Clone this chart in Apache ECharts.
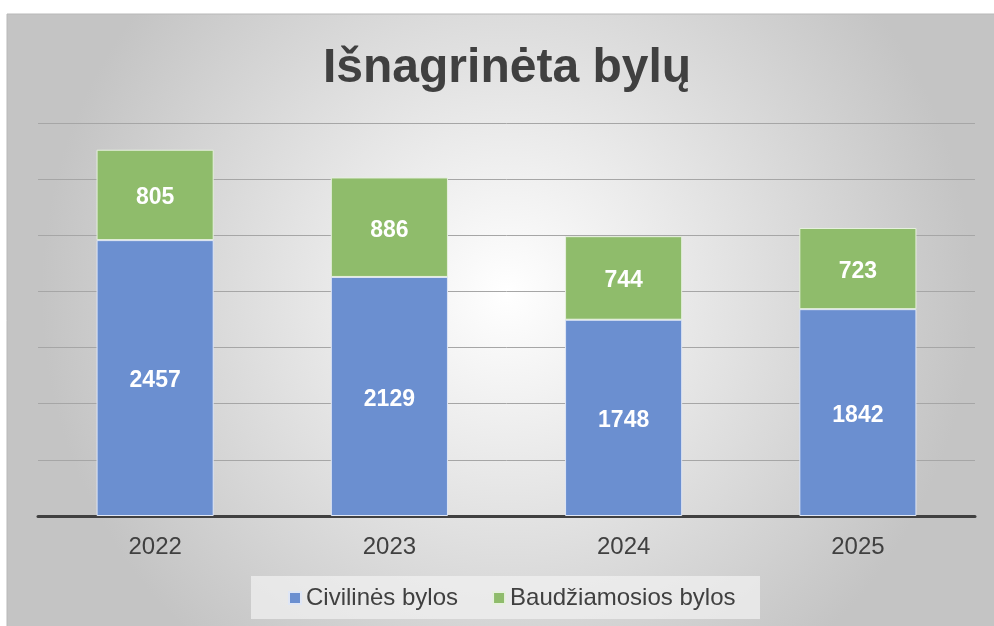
<!DOCTYPE html>
<html>
<head>
<meta charset="utf-8">
<script src="https://cdn.jsdelivr.net/npm/echarts@6/dist/echarts.min.js"></script>
<style>
  html, body { margin: 0; padding: 0; background: #fff; }
  #chart { width: 994px; height: 626px; }
</style>
</head>
<body>
<div id="chart"></div>
<script>
const years = ['2022', '2023', '2024', '2025'];
const civilines = [2457, 2129, 1748, 1842];
const baudziamosios = [805, 886, 744, 723];

const myChart = echarts.init(document.getElementById('chart'));

const labelStyle = {
    show: true,
    color: '#fff',
    fontSize: 23,
    fontWeight: 'bold',
    fontFamily: 'Liberation Sans, Arial, sans-serif',
    offset: [0, 3]
};

let option = {
    backgroundColor: '#fff',
    animation: false,
    graphic: [{
        type: 'rect',
        z: -10,
        silent: true,
        shape: { x: 7, y: 14, width: 1000, height: 620 },
        style: {
            fill: new echarts.graphic.RadialGradient(0.5, 0.45, 0.75, [
                { offset: 0, color: '#ffffff' },
                { offset: 1, color: '#c4c4c4' }
            ]),
            stroke: '#b8b8b8',
            lineWidth: 1
        }
    }, {
        type: 'rect',
        silent: true,
        z: -5,
        shape: { x: 251, y: 576, width: 509, height: 43 },
        style: { fill: 'rgba(242,242,242,0.7)' }
    }],
    title: {
        text: 'Išnagrinėta bylų',
        left: 318,
        top: 40,
        textStyle: {
            fontSize: 48,
            fontWeight: 'bold',
            color: '#404040',
            fontFamily: 'Liberation Sans, Arial, sans-serif'
        }
    },
    legend: {
        top: 581,
        left: 283,
        itemWidth: 12,
        itemHeight: 12,
        itemGap: 34,
        icon: 'rect',
        textStyle: {
            fontSize: 24,
            color: '#404040',
            fontFamily: 'Liberation Sans, Arial, sans-serif'
        },
        data: ['Civilinės bylos', 'Baudžiamosios bylos']
    },
    grid: {
        left: 38,
        right: 19,
        top: 123,
        bottom: 110
    },
    xAxis: {
        type: 'category',
        data: years,
        axisLine: { lineStyle: { color: '#404040', width: 3 } },
        axisTick: { show: false },
        axisLabel: {
            fontSize: 24,
            color: '#404040',
            margin: 19,
            fontFamily: 'Liberation Sans, Arial, sans-serif'
        }
    },
    yAxis: {
        type: 'value',
        min: 0,
        max: 3500,
        interval: 500,
        axisLabel: { show: false },
        axisLine: { show: false },
        axisTick: { show: false },
        splitLine: { lineStyle: { color: '#a6a6a6', width: 1 } }
    },
    series: [
        {
            name: 'Civilinės bylos',
            type: 'bar',
            stack: 'total',
            barWidth: '50%',
            data: civilines,
            itemStyle: { color: '#6b8fd0', borderColor: '#dfe6f5', borderWidth: 1 },
            label: labelStyle
        },
        {
            name: 'Baudžiamosios bylos',
            type: 'bar',
            stack: 'total',
            barWidth: '50%',
            data: baudziamosios,
            itemStyle: { color: '#8fbc6b', borderColor: '#e6f0de', borderWidth: 1 },
            label: labelStyle
        }
    ]
};

myChart.setOption(option);
</script>
</body>
</html>
